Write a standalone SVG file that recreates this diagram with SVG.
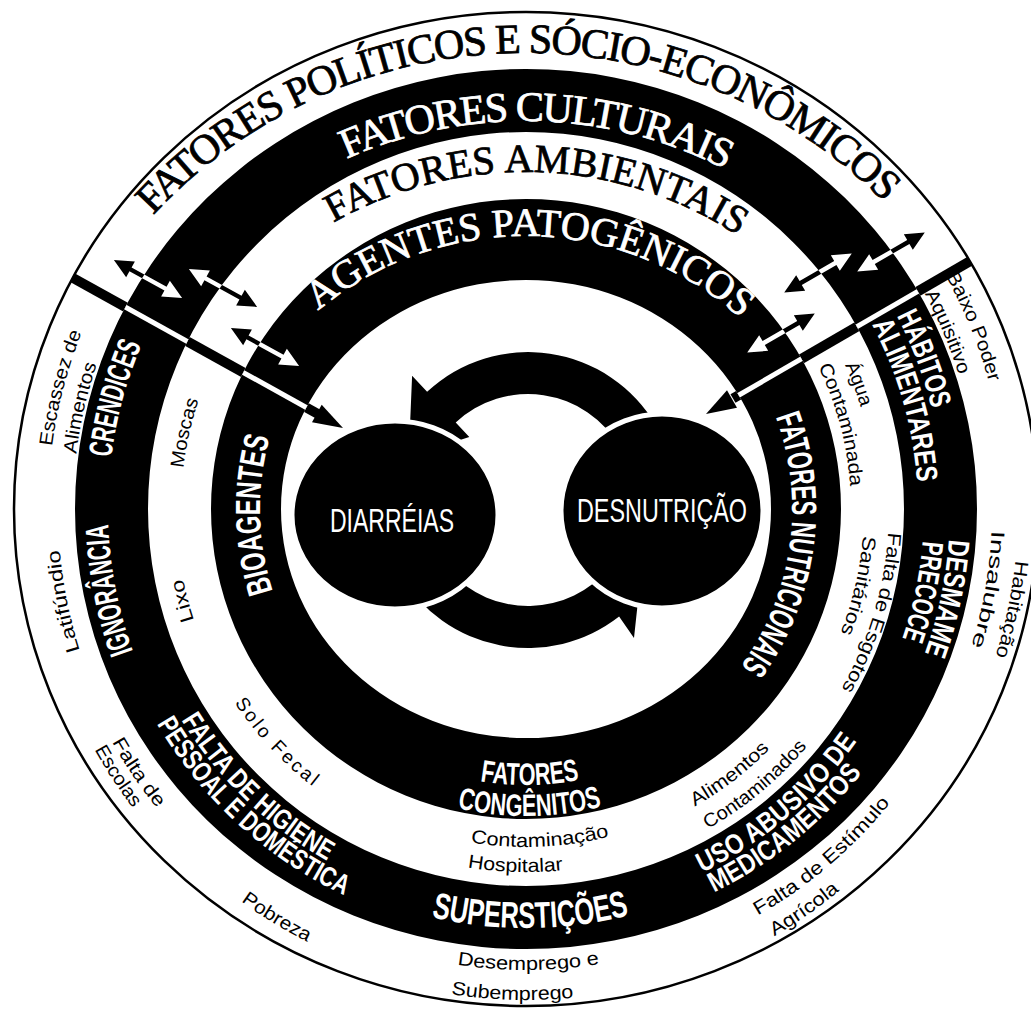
<svg xmlns="http://www.w3.org/2000/svg" width="1031" height="1017" viewBox="0 0 1031 1017">
<style>
.blk{fill:#000}
.wht{fill:#fff}
.outer{fill:#fff;stroke:#000;stroke-width:2.5}
.serif{font-family:"Liberation Serif","Times New Roman",serif;stroke-width:0.8}
.sans{font-family:"Liberation Sans",Arial,sans-serif}
.tw{fill:#fff}
.tk{fill:#000}
.serif.tw{stroke:#fff}
.serif.tk{stroke:#000}
.cond{font-weight:bold}
.node{fill:#000;stroke:#fff;stroke-width:5}
.sm{font-size:19px}
</style>
<defs>
<path id="c266" d="M-230.4,-133 A266,266 0 0 1 230.4,-133"/>
<path id="c325" d="M-281.5,-162.5 A325,325 0 0 1 281.5,-162.5"/>
<path id="c338" d="M-292.7,-169 A338,338 0 0 1 292.7,-169"/>
<path id="c345" d="M-298.8,-172.5 A345,345 0 0 1 298.8,-172.5"/>
<path id="c350" d="M-303.1,-175 A350,350 0 0 1 303.1,-175"/>
<path id="c363" d="M-314.4,-181.5 A363,363 0 0 1 314.4,-181.5"/>
<path id="c392" d="M-339.5,-196 A392,392 0 0 1 339.5,-196"/>
<path id="c398" d="M-344.7,-199 A398,398 0 0 1 344.7,-199"/>
<path id="c418" d="M-362,-209 A418,418 0 0 1 362,-209"/>
<path id="c424" d="M-367.2,-212 A424,424 0 0 1 367.2,-212"/>
<path id="c453" d="M-392.3,-226.5 A453,453 0 0 1 392.3,-226.5"/>
<path id="c466" d="M-403.6,-233 A466,466 0 0 1 403.6,-233"/>
<path id="c468" d="M-405.3,-234 A468,468 0 0 1 405.3,-234"/>
<path id="c478" d="M-414,-239 A478,478 0 0 1 414,-239"/>
<path id="c480" d="M-415.7,-240 A480,480 0 0 1 415.7,-240"/>
<path id="c492" d="M-426.1,-246 A492,492 0 0 1 426.1,-246"/>
<path id="t507" d="M-439.1,-253.5 A507,507 0 0 1 439.1,-253.5"/>
<path id="t439" d="M-380.2,-219.5 A439,439 0 0 1 380.2,-219.5"/>
<path id="t388" d="M-336,-194 A388,388 0 0 1 336,-194"/>
<path id="t324" d="M-280.6,-162 A324,324 0 0 1 280.6,-162"/>
<path id="a276" d="M-239,138 A276,276 0 0 0 239,138"/>
<path id="a307" d="M-265.9,153.5 A307,307 0 0 0 265.9,153.5"/>
<path id="a338" d="M-292.7,169 A338,338 0 0 0 292.7,169"/>
<path id="a342" d="M-296.2,171 A342,342 0 0 0 296.2,171"/>
<path id="a350" d="M-303.1,175 A350,350 0 0 0 303.1,175"/>
<path id="a363" d="M-314.4,181.5 A363,363 0 0 0 314.4,181.5"/>
<path id="a368" d="M-318.7,184 A368,368 0 0 0 318.7,184"/>
<path id="a404" d="M-349.9,202 A404,404 0 0 0 349.9,202"/>
<path id="a419" d="M-362.9,209.5 A419,419 0 0 0 362.9,209.5"/>
<path id="a427" d="M-369.8,213.5 A427,427 0 0 0 369.8,213.5"/>
<path id="a461" d="M-399.2,230.5 A461,461 0 0 0 399.2,230.5"/>
<path id="a468" d="M-405.3,234 A468,468 0 0 0 405.3,234"/>
<path id="a475" d="M-411.4,237.5 A475,475 0 0 0 411.4,237.5"/>
<path id="a485" d="M-420,242.5 A485,485 0 0 0 420,242.5"/>
<path id="a491" d="M-425.2,245.5 A491,491 0 0 0 425.2,245.5"/>
<path id="a494" d="M-427.8,247 A494,494 0 0 0 427.8,247"/>
<clipPath id="clipWhite"><path clip-rule="evenodd" d="M14,509 A512,497 0 1 0 1038,509 A512,497 0 1 0 14,509 Z M75,509 A451,440 0 1 0 977,509 A451,440 0 1 0 75,509 Z M148,509 A378,377 0 1 0 904,509 A378,377 0 1 0 148,509 Z M211,509 A315,310 0 1 0 841,509 A315,310 0 1 0 211,509 Z M281,509 A245,229 0 1 0 771,509 A245,229 0 1 0 281,509 Z"/></clipPath>
<clipPath id="clipBlack"><path clip-rule="evenodd" d="M75,509 A451,440 0 1 0 977,509 A451,440 0 1 0 75,509 Z M148,509 A378,377 0 1 0 904,509 A378,377 0 1 0 148,509 Z M211,509 A315,310 0 1 0 841,509 A315,310 0 1 0 211,509 Z M281,509 A245,229 0 1 0 771,509 A245,229 0 1 0 281,509 Z"/></clipPath>
<path id="dbl" d="M-39,0 L-20,-9 L-20,-2.2 L20,-2.2 L20,-9 L39,0 L20,9 L20,2.2 L-20,2.2 L-20,9 Z"/>
</defs>
<rect width="1031" height="1017" fill="#fff"/>

<g id="ring-politicos">
<ellipse class="outer" cx="526" cy="509" rx="512" ry="497"/>
<text class="serif tk" font-size="42" text-anchor="middle" transform="translate(525 560) rotate(-1)"><textPath href="#t507" startOffset="50%" textLength="817" lengthAdjust="spacing">FATORES POLÍTICOS E SÓCIO-ECONÔMICOS</textPath></text>
<g class="sans tk sm" text-anchor="middle">
<text transform="translate(526 509) rotate(284.6)"><textPath href="#c478" startOffset="50%" textLength="118" lengthAdjust="spacingAndGlyphs">Escassez de</textPath></text>
<text transform="translate(526 509) rotate(282.8)"><textPath href="#c453" startOffset="50%" textLength="92" lengthAdjust="spacingAndGlyphs">Alimentos</textPath></text>
<text transform="translate(526 509) rotate(258.7)"><textPath href="#c468" startOffset="50%" textLength="103" lengthAdjust="spacingAndGlyphs">Latifúndio</textPath></text>
<text transform="translate(526 509) rotate(55.8)"><textPath href="#a475" startOffset="50%" textLength="80" lengthAdjust="spacingAndGlyphs">Falta de</textPath></text>
<text transform="translate(526 509) rotate(56.8)"><textPath href="#a494" startOffset="50%" textLength="70" lengthAdjust="spacingAndGlyphs">Escolas</textPath></text>
<text transform="translate(526 509) rotate(31.4)"><textPath href="#a485" startOffset="50%" textLength="78" lengthAdjust="spacingAndGlyphs">Pobreza</textPath></text>
<text transform="translate(526 509) rotate(-0.3)"><textPath href="#a461" startOffset="50%" textLength="143" lengthAdjust="spacingAndGlyphs">Desemprego e</textPath></text>
<text transform="translate(526 509) rotate(1.6)"><textPath href="#a491" startOffset="50%" textLength="123" lengthAdjust="spacingAndGlyphs">Subemprego</textPath></text>
<text transform="translate(526 509) rotate(-40.4)"><textPath href="#a468" startOffset="50%" textLength="175" lengthAdjust="spacingAndGlyphs">Falta de Estímulo</textPath></text>
<text transform="translate(526 509) rotate(-34.8)"><textPath href="#a494" startOffset="50%" textLength="80" lengthAdjust="spacingAndGlyphs">Agrícola</textPath></text>
<text transform="translate(526 509) rotate(101.7)"><textPath href="#c492" startOffset="50%" textLength="98" lengthAdjust="spacingAndGlyphs">Habitação</textPath></text>
<text transform="translate(526 509) rotate(99.9)"><textPath href="#c466" startOffset="50%" textLength="118" lengthAdjust="spacingAndGlyphs">Insalubre</textPath></text>
<text transform="translate(526 509) rotate(67.8)"><textPath href="#c480" startOffset="50%" textLength="115" lengthAdjust="spacingAndGlyphs">Baixo Poder</textPath></text>
<text transform="translate(526 509) rotate(67.2)"><textPath href="#c453" startOffset="50%" textLength="88" lengthAdjust="spacingAndGlyphs">Aquisitivo</textPath></text>
</g>
</g>

<g id="ring-culturais">
<path class="blk" fill-rule="evenodd" d="M75,509 A451,440 0 1 0 977,509 A451,440 0 1 0 75,509 Z M148,509 A378,377 0 1 0 904,509 A378,377 0 1 0 148,509 Z"/>
<text class="serif tw" font-size="42" text-anchor="middle" transform="translate(525 560) rotate(1.6)"><textPath href="#t439" startOffset="50%" textLength="392" lengthAdjust="spacing">FATORES CULTURAIS</textPath></text>
<g class="sans tw cond" text-anchor="middle">
<text font-size="33" transform="translate(526 509) rotate(285.1)"><textPath href="#c418" startOffset="50%" textLength="117" lengthAdjust="spacingAndGlyphs">CRENDICES</textPath></text>
<text font-size="33" transform="translate(526 509) rotate(259)"><textPath href="#c418" startOffset="50%" textLength="130" lengthAdjust="spacingAndGlyphs">IGNORÂNCIA</textPath></text>
<text font-size="28" transform="translate(526 509) rotate(44)"><textPath href="#a404" startOffset="50%" textLength="205" lengthAdjust="spacingAndGlyphs">FALTA DE HIGIENE</textPath></text>
<text font-size="28" transform="translate(526 509) rotate(42.5)"><textPath href="#a427" startOffset="50%" textLength="258" lengthAdjust="spacingAndGlyphs">PESSOAL E DOMÉSTICA</textPath></text>
<text font-size="37" transform="translate(526 509) rotate(-0.6)"><textPath href="#a419" startOffset="50%" textLength="200" lengthAdjust="spacingAndGlyphs">SUPERSTIÇÕES</textPath></text>
<text font-size="28" transform="translate(526 509) rotate(-40.4)"><textPath href="#a404" startOffset="50%" textLength="205" lengthAdjust="spacingAndGlyphs">USO ABUSIVO DE</textPath></text>
<text font-size="28" transform="translate(526 509) rotate(-39)"><textPath href="#a427" startOffset="50%" textLength="192" lengthAdjust="spacingAndGlyphs">MEDICAMENTOS</textPath></text>
<text font-size="30" transform="translate(526 509) rotate(102)"><textPath href="#c424" startOffset="50%" textLength="117" lengthAdjust="spacingAndGlyphs">DESMAME</textPath></text>
<text font-size="30" transform="translate(526 509) rotate(101.8)"><textPath href="#c398" startOffset="50%" textLength="100" lengthAdjust="spacingAndGlyphs">PRECOCE</textPath></text>
<text font-size="30" transform="translate(526 509) rotate(69.3)"><textPath href="#c418" startOffset="50%" textLength="100" lengthAdjust="spacingAndGlyphs">HÁBITOS</textPath></text>
<text font-size="30" transform="translate(526 509) rotate(74)"><textPath href="#c392" startOffset="50%" textLength="165" lengthAdjust="spacingAndGlyphs">ALIMENTARES</textPath></text>
</g>
</g>

<g id="ring-ambientais">
<text class="serif tk" font-size="40" text-anchor="middle" transform="translate(525 560) rotate(1.85)"><textPath href="#t388" startOffset="50%" textLength="426" lengthAdjust="spacing">FATORES AMBIENTAIS</textPath></text>
<g class="sans tk sm" text-anchor="middle">
<text transform="translate(526 509) rotate(282.6)"><textPath href="#c345" startOffset="50%" textLength="70" lengthAdjust="spacingAndGlyphs">Moscas</textPath></text>
<text transform="translate(526 509) rotate(255)"><textPath href="#c350" startOffset="50%" textLength="43" lengthAdjust="spacingAndGlyphs">Lixo</textPath></text>
<text transform="translate(526 509) rotate(47)"><textPath href="#a350" startOffset="50%" textLength="115" lengthAdjust="spacing">Solo Fecal</textPath></text>
<text transform="translate(526 509) rotate(-2.4)"><textPath href="#a338" startOffset="50%" textLength="140" lengthAdjust="spacingAndGlyphs">Contaminação</textPath></text>
<text transform="translate(526 509) rotate(1.7)"><textPath href="#a363" startOffset="50%" textLength="96" lengthAdjust="spacingAndGlyphs">Hospitalar</textPath></text>
<text transform="translate(526 509) rotate(-37.5)"><textPath href="#a342" startOffset="50%" textLength="95" lengthAdjust="spacingAndGlyphs">Alimentos</textPath></text>
<text transform="translate(526 509) rotate(-39.7)"><textPath href="#a368" startOffset="50%" textLength="130" lengthAdjust="spacingAndGlyphs">Contaminados</textPath></text>
<text transform="translate(526 509) rotate(106.7)"><textPath href="#c363" startOffset="50%" textLength="165" lengthAdjust="spacingAndGlyphs">Falta de Esgotos</textPath></text>
<text transform="translate(526 509) rotate(103)"><textPath href="#c338" startOffset="50%" textLength="100" lengthAdjust="spacingAndGlyphs">Sanitários</textPath></text>
<text transform="translate(526 509) rotate(69.4)"><textPath href="#c350" startOffset="50%" textLength="45" lengthAdjust="spacingAndGlyphs">Água</textPath></text>
<text transform="translate(526 509) rotate(75)"><textPath href="#c325" startOffset="50%" textLength="125" lengthAdjust="spacingAndGlyphs">Contaminada</textPath></text>
</g>
</g>

<g id="ring-patogenicos">
<path class="blk" fill-rule="evenodd" d="M211,509 A315,310 0 1 0 841,509 A315,310 0 1 0 211,509 Z M281,509 A245,229 0 1 0 771,509 A245,229 0 1 0 281,509 Z"/>
<text class="serif tw" font-size="40" text-anchor="middle" transform="translate(525 560) rotate(1.05)"><textPath href="#t324" startOffset="50%" textLength="461" lengthAdjust="spacing">AGENTES PATOGÊNICOS</textPath></text>
<g class="sans tw cond" text-anchor="middle">
<text font-size="35" transform="translate(526 509) rotate(268.8)"><textPath href="#c266" startOffset="50%" textLength="156" lengthAdjust="spacingAndGlyphs">BIOAGENTES</textPath></text>
<text font-size="35" transform="translate(526 509) rotate(98)"><textPath href="#c266" startOffset="50%" textLength="262" lengthAdjust="spacingAndGlyphs">FATORES NUTRICIONAIS</textPath></text>
<text font-size="31" transform="translate(526 509) rotate(-0.8)"><textPath href="#a276" startOffset="50%" textLength="100" lengthAdjust="spacingAndGlyphs">FATORES</textPath></text>
<text font-size="31" transform="translate(526 509) rotate(-0.7)"><textPath href="#a307" startOffset="50%" textLength="146" lengthAdjust="spacingAndGlyphs">CONGÊNITOS</textPath></text>
</g>
</g>

<g id="connectors">
<g id="cycle-arrows" class="blk">
<path d="M656.2,426 A148,148 0 0 0 427.1,391.8 L412.1,375.7 L408.7,456.6 L469.3,437.1 L455.7,422.5 A106,106 0 0 1 619.8,447 Z"/>
<path d="M399.8,574 A148,148 0 0 0 619.1,616.6 L634,638 L643.1,553.7 L580.9,567.8 L593.3,583.5 A106,106 0 0 1 436.2,553 Z"/>
</g>
</g>

<g id="node-diarreias">
<ellipse class="node" cx="395" cy="515" rx="103" ry="94"/>
<text class="sans tw" x="392" y="532" font-size="33" text-anchor="middle" textLength="124" lengthAdjust="spacingAndGlyphs">DIARRÉIAS</text>
</g>
<g id="node-desnutricao">
<ellipse class="node" cx="662" cy="511" rx="101" ry="97"/>
<text class="sans tw" x="662" y="522" font-size="33" text-anchor="middle" textLength="170" lengthAdjust="spacingAndGlyphs">DESNUTRIÇÃO</text>
</g>

<g id="influence-connectors">
<g clip-path="url(#clipWhite)" fill="#000">
<line x1="55" y1="268" x2="318" y2="414" stroke="#000" stroke-width="10"/>
<line x1="1010" y1="238" x2="733" y2="398.5" stroke="#000" stroke-width="10"/>
<polygon points="343,428 312,422.2 321.7,404.7"/>
<polygon points="706,414 737,407.7 727,390.3"/>
<use href="#dbl" transform="translate(148 279) rotate(29)"/>
<use href="#dbl" transform="translate(223 288) rotate(29)"/>
<use href="#dbl" transform="translate(265 347) rotate(29)"/>
<use href="#dbl" transform="translate(891 252) rotate(-30)"/>
<use href="#dbl" transform="translate(818 273) rotate(-30)"/>
<use href="#dbl" transform="translate(781 333) rotate(-30)"/>
</g>
<g clip-path="url(#clipBlack)" fill="#fff">
<line x1="55" y1="268" x2="318" y2="414" stroke="#fff" stroke-width="5"/>
<line x1="1010" y1="238" x2="733" y2="398.5" stroke="#fff" stroke-width="5"/>
<use href="#dbl" transform="translate(148 279) rotate(29)"/>
<use href="#dbl" transform="translate(223 288) rotate(29)"/>
<use href="#dbl" transform="translate(265 347) rotate(29)"/>
<use href="#dbl" transform="translate(891 252) rotate(-30)"/>
<use href="#dbl" transform="translate(818 273) rotate(-30)"/>
<use href="#dbl" transform="translate(781 333) rotate(-30)"/>
</g>
</g>
</svg>
